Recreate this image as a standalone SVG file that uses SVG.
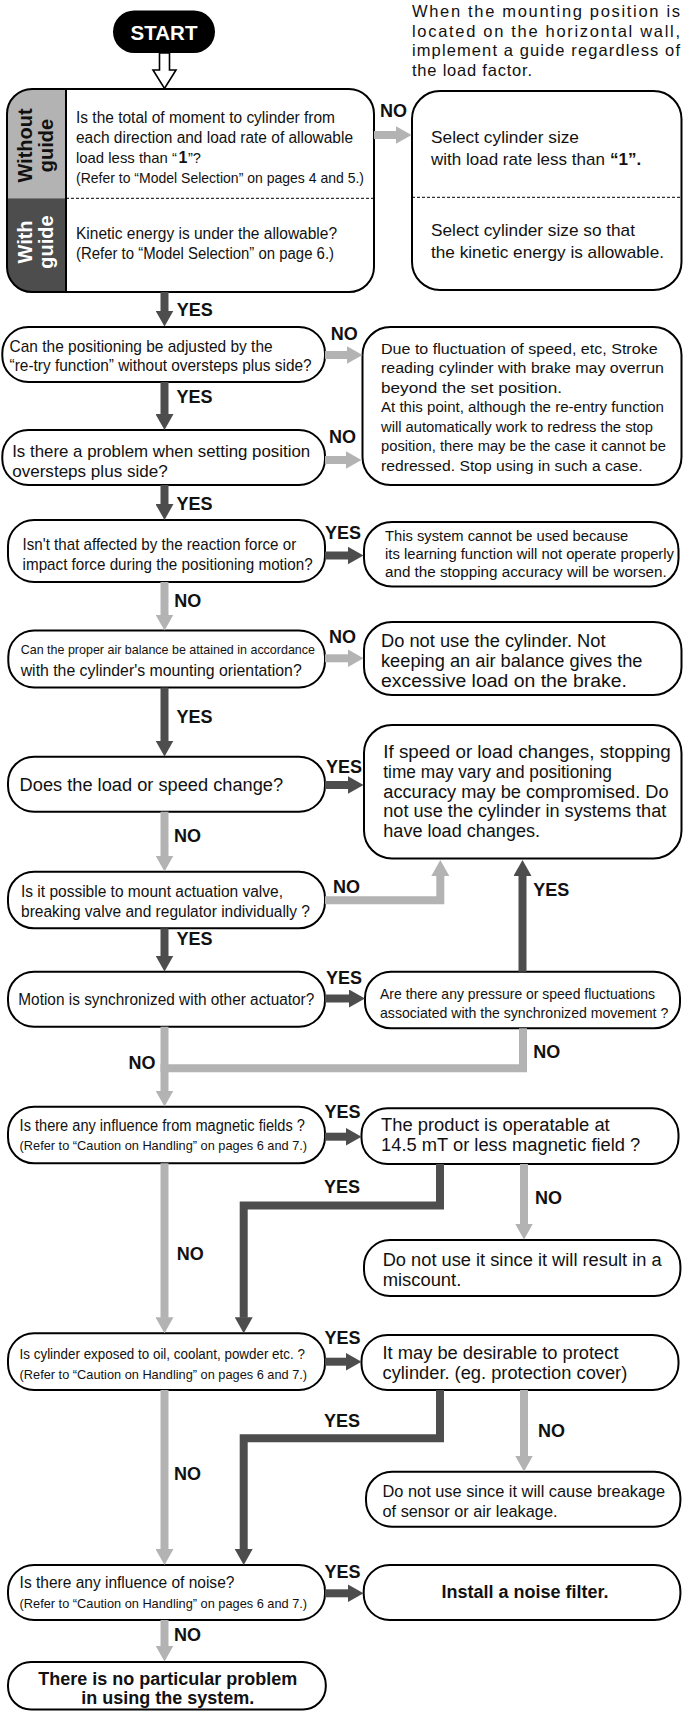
<svg xmlns="http://www.w3.org/2000/svg" width="683" height="1712" viewBox="0 0 683 1712">
<style>
.node{fill:#fff;stroke:#000;stroke-width:2}
text{font-family:"Liberation Sans",Arial,Helvetica,sans-serif;fill:#111}
.f16{font-size:16px}.f165{font-size:16.5px}.f17{font-size:17px}.f18{font-size:18px}
.b{font-weight:bold}
.lbl{font-size:18px;font-weight:bold}
.side{font-size:20px;font-weight:bold}
.dk{fill:none;stroke:#4d4d4d;stroke-width:8;stroke-linejoin:miter;marker-end:url(#ad)}
.lt{fill:none;stroke:#b3b3b3;stroke-width:8;stroke-linejoin:miter;marker-end:url(#al)}
.ltn{fill:none;stroke:#b3b3b3;stroke-width:8;stroke-linejoin:miter}
.dash{stroke:#000;stroke-width:1;stroke-dasharray:3 2;fill:none}
</style>
<defs>
<marker id="ad" markerUnits="userSpaceOnUse" viewBox="0 -9 16 18" refX="0.5" refY="0" markerWidth="16" markerHeight="18" orient="auto"><path d="M0,-9 L16,0 L0,9 z" fill="#4d4d4d"/></marker>
<marker id="al" markerUnits="userSpaceOnUse" viewBox="0 -9 16 18" refX="0.5" refY="0" markerWidth="16" markerHeight="18" orient="auto"><path d="M0,-9 L16,0 L0,9 z" fill="#b3b3b3"/></marker>
<clipPath id="c1"><rect x="7" y="89" width="367" height="203" rx="25"/></clipPath>
</defs>

<g id="note">
<text class="f165" x="412" y="16.7" textLength="268" lengthAdjust="spacing">When the mounting position is</text>
<text class="f165" x="412" y="36.5" textLength="268" lengthAdjust="spacing">located on the horizontal wall,</text>
<text class="f165" x="412" y="56.3" textLength="268" lengthAdjust="spacing">implement a guide regardless of</text>
<text class="f165" x="412" y="76" textLength="120" lengthAdjust="spacing">the load factor.</text>
</g>

<g id="start">
<rect x="113" y="10.5" width="102" height="42.5" rx="21.25" fill="#000"/>
<text x="164" y="40" text-anchor="middle" font-size="20.5" font-weight="bold" style="fill:#fff">START</text>
<polygon points="159.5,53 169.5,53 169.5,70 176,70 164.5,88.5 153,70 159.5,70" fill="#fff" stroke="#000" stroke-width="1.6"/>
</g>

<g id="check-load">
<g clip-path="url(#c1)">
<rect x="7" y="89" width="59" height="109.3" fill="#b3b3b3"/>
<rect x="7" y="198.3" width="59" height="94" fill="#4d4d4d"/>
</g>
<line x1="66" y1="89" x2="66" y2="292" stroke="#000" stroke-width="2"/>
<line class="dash" x1="66" y1="198.3" x2="374" y2="198.3"/>
<rect x="7" y="89" width="367" height="203" rx="25" fill="none" stroke="#000" stroke-width="2"/>
<text class="side" transform="translate(32,145.5) rotate(-90)" text-anchor="middle">Without</text>
<text class="side" transform="translate(53,145.5) rotate(-90)" text-anchor="middle">guide</text>
<text class="side" transform="translate(32,242) rotate(-90)" text-anchor="middle" style="fill:#fff">With</text>
<text class="side" transform="translate(53,242) rotate(-90)" text-anchor="middle" style="fill:#fff">guide</text>
<text class="f16" x="76" y="123.4" textLength="259" lengthAdjust="spacingAndGlyphs">Is the total of moment to cylinder from</text>
<text class="f16" x="76" y="143.4" textLength="277" lengthAdjust="spacingAndGlyphs">each direction and load rate of allowable</text>
<text x="76" y="163.4" font-size="14.8" textLength="101" lengthAdjust="spacingAndGlyphs">load less than “</text>
<text class="f16 b" x="178.5" y="163.4">1</text>
<text x="188" y="163.4" font-size="14.5" textLength="13" lengthAdjust="spacingAndGlyphs">”?</text>
<text x="76" y="183" font-size="14.3" textLength="288" lengthAdjust="spacingAndGlyphs">(Refer to “Model Selection” on pages 4 and 5.)</text>
<text class="f16" x="76" y="239.4" textLength="261" lengthAdjust="spacingAndGlyphs">Kinetic energy is under the allowable?</text>
<text class="f16" x="76" y="259.4" textLength="258" lengthAdjust="spacingAndGlyphs">(Refer to “Model Selection” on page 6.)</text>
</g>

<g id="select-size">
<rect class="node" x="412" y="91" width="269.5" height="199" rx="28"/>
<line class="dash" x1="412" y1="197.3" x2="681.5" y2="197.3"/>
<text class="f17" x="431" y="143" textLength="148" lengthAdjust="spacingAndGlyphs">Select cylinder size</text>
<text class="f17" x="431" y="165">with load rate less than</text>
<text class="f17 b" x="610" y="165">“1”.</text>
<text class="f17" x="431" y="236" textLength="204" lengthAdjust="spacingAndGlyphs">Select cylinder size so that</text>
<text class="f17" x="431" y="258.3" textLength="233" lengthAdjust="spacingAndGlyphs">the kinetic energy is allowable.</text>
</g>

<g id="retry">
<rect class="node" x="2.3" y="327" width="322.7" height="55" rx="26"/>
<text x="9.6" y="351.7" font-size="15.7" textLength="263" lengthAdjust="spacingAndGlyphs">Can the positioning be adjusted by the</text>
<text x="9.6" y="371" font-size="15.7" textLength="302" lengthAdjust="spacingAndGlyphs">“re-try function” without oversteps plus side?</text>
</g>

<g id="overstep">
<rect class="node" x="2.3" y="430" width="322.7" height="55" rx="26"/>
<text class="f17" x="12.2" y="456.7" textLength="298" lengthAdjust="spacingAndGlyphs">Is there a problem when setting position</text>
<text class="f17" x="12.2" y="476.7" textLength="155.5" lengthAdjust="spacingAndGlyphs">oversteps plus side?</text>
</g>

<g id="overrun-note" font-size="15.3">
<rect class="node" x="362.5" y="327" width="319" height="158" rx="28"/>
<text x="381" y="353.5" textLength="276.6" lengthAdjust="spacingAndGlyphs">Due to fluctuation of speed, etc, Stroke</text>
<text x="381" y="373" textLength="283" lengthAdjust="spacingAndGlyphs">reading cylinder with brake may overrun</text>
<text x="381" y="392.5" textLength="181" lengthAdjust="spacingAndGlyphs">beyond the set position.</text>
<text x="381" y="412" textLength="283" lengthAdjust="spacingAndGlyphs">At this point, although the re-entry function</text>
<text x="381" y="431.5" textLength="272" lengthAdjust="spacingAndGlyphs">will automatically work to redress the stop</text>
<text x="381" y="451" textLength="285" lengthAdjust="spacingAndGlyphs">position, there may be the case it cannot be</text>
<text x="381" y="470.5" textLength="261.5" lengthAdjust="spacingAndGlyphs">redressed. Stop using in such a case.</text>
</g>

<g id="reaction" font-size="15.7">
<rect class="node" x="8" y="520" width="317" height="62" rx="26"/>
<text x="22.6" y="550" textLength="273.6" lengthAdjust="spacingAndGlyphs">Isn't that affected by the reaction force or</text>
<text x="22.6" y="569.5" textLength="290" lengthAdjust="spacingAndGlyphs">impact force during the positioning motion?</text>
</g>

<g id="learning-note" font-size="14.9">
<rect class="node" x="364" y="522" width="314.5" height="64.5" rx="28"/>
<text x="385" y="540.5" textLength="243.3" lengthAdjust="spacingAndGlyphs">This system cannot be used because</text>
<text x="385" y="558.5" textLength="289" lengthAdjust="spacingAndGlyphs">its learning function will not operate properly</text>
<text x="385" y="576.5" textLength="281.7" lengthAdjust="spacingAndGlyphs">and the stopping accuracy will be worsen.</text>
</g>

<g id="air-balance">
<rect class="node" x="8.3" y="630.5" width="316.7" height="57" rx="26"/>
<text x="20.7" y="653.5" font-size="12.8" textLength="294.3" lengthAdjust="spacingAndGlyphs">Can the proper air balance be attained in accordance</text>
<text class="f17" x="20.7" y="675.5" textLength="281" lengthAdjust="spacingAndGlyphs">with the cylinder's mounting orientation?</text>
</g>

<g id="air-note">
<rect class="node" x="364" y="622" width="317.5" height="73" rx="28"/>
<text class="f18" x="381" y="647" textLength="224.5" lengthAdjust="spacingAndGlyphs">Do not use the cylinder. Not</text>
<text class="f18" x="381" y="667" textLength="261.5" lengthAdjust="spacingAndGlyphs">keeping an air balance gives the</text>
<text class="f18" x="381" y="687" textLength="246" lengthAdjust="spacingAndGlyphs">excessive load on the brake.</text>
</g>

<g id="load-change">
<rect class="node" x="8" y="756.7" width="317" height="55" rx="26"/>
<text class="f18" x="19.6" y="790.7" textLength="263.5" lengthAdjust="spacingAndGlyphs">Does the load or speed change?</text>
</g>

<g id="load-note">
<rect class="node" x="364" y="725" width="317.5" height="133.5" rx="28"/>
<text class="f18" x="383.3" y="758.3" textLength="287.5" lengthAdjust="spacingAndGlyphs">If speed or load changes, stopping</text>
<text class="f18" x="383.3" y="778" textLength="228.7" lengthAdjust="spacingAndGlyphs">time may vary and positioning</text>
<text class="f18" x="383.3" y="797.5" textLength="285.3" lengthAdjust="spacingAndGlyphs">accuracy may be compromised. Do</text>
<text class="f18" x="383.3" y="817" textLength="283" lengthAdjust="spacingAndGlyphs">not use the cylinder in systems that</text>
<text class="f18" x="383.3" y="836.5" textLength="156.8" lengthAdjust="spacingAndGlyphs">have load changes.</text>
</g>

<g id="valves">
<rect class="node" x="8" y="871.7" width="317" height="56.6" rx="26"/>
<text class="f16" x="21" y="897.3" textLength="262" lengthAdjust="spacingAndGlyphs">Is it possible to mount actuation valve,</text>
<text class="f16" x="21" y="916.5" textLength="289" lengthAdjust="spacingAndGlyphs">breaking valve and regulator individually ?</text>
</g>

<g id="synchronized">
<rect class="node" x="8" y="971.7" width="317" height="55" rx="26"/>
<text x="18.3" y="1005" font-size="15.6" textLength="296" lengthAdjust="spacingAndGlyphs">Motion is synchronized with other actuator?</text>
</g>

<g id="fluctuations" font-size="14.4">
<rect class="node" x="365" y="971.7" width="315" height="56.6" rx="26"/>
<text x="380" y="999" textLength="275" lengthAdjust="spacingAndGlyphs">Are there any pressure or speed fluctuations</text>
<text x="380" y="1018.3" textLength="288.3" lengthAdjust="spacingAndGlyphs">associated with the synchronized movement ?</text>
</g>

<g id="magnetic">
<rect class="node" x="8" y="1106.7" width="317" height="56.6" rx="26"/>
<text x="19.6" y="1130.7" font-size="15.6" textLength="285.3" lengthAdjust="spacingAndGlyphs">Is there any influence from magnetic fields ?</text>
<text x="19.6" y="1150.3" font-size="13.5" textLength="287.5" lengthAdjust="spacingAndGlyphs">(Refer to “Caution on Handling” on pages 6 and 7.)</text>
</g>

<g id="field-limit">
<rect class="node" x="361.5" y="1108.3" width="317" height="55.7" rx="26"/>
<text class="f18" x="381" y="1130.7" textLength="228.7" lengthAdjust="spacingAndGlyphs">The product is operatable at</text>
<text class="f18" x="381" y="1150.7" textLength="259.3" lengthAdjust="spacingAndGlyphs">14.5 mT or less magnetic field ?</text>
</g>

<g id="miscount">
<rect class="node" x="364" y="1240" width="316.4" height="56" rx="26"/>
<text class="f18" x="382.7" y="1266" textLength="279" lengthAdjust="spacingAndGlyphs">Do not use it since it will result in a</text>
<text class="f18" x="382.7" y="1286" textLength="78.6" lengthAdjust="spacingAndGlyphs">miscount.</text>
</g>

<g id="oil">
<rect class="node" x="8" y="1333.3" width="317" height="56.7" rx="26"/>
<text x="19.6" y="1359" font-size="15.4" textLength="285.3" lengthAdjust="spacingAndGlyphs">Is cylinder exposed to oil, coolant, powder etc. ?</text>
<text x="19.6" y="1379" font-size="13.5" textLength="287.5" lengthAdjust="spacingAndGlyphs">(Refer to “Caution on Handling” on pages 6 and 7.)</text>
</g>

<g id="protect">
<rect class="node" x="361.5" y="1335" width="317" height="55" rx="26"/>
<text class="f18" x="382.5" y="1359.3" textLength="236" lengthAdjust="spacingAndGlyphs">It may be desirable to protect</text>
<text class="f18" x="382.5" y="1379.3" textLength="244.8" lengthAdjust="spacingAndGlyphs">cylinder. (eg. protection cover)</text>
</g>

<g id="breakage" font-size="16.8">
<rect class="node" x="366" y="1471.7" width="314.4" height="55" rx="26"/>
<text x="382.5" y="1496.7" textLength="282.7" lengthAdjust="spacingAndGlyphs">Do not use since it will cause breakage</text>
<text x="382.5" y="1516.7" textLength="175" lengthAdjust="spacingAndGlyphs">of sensor or air leakage.</text>
</g>

<g id="noise">
<rect class="node" x="8" y="1565" width="317" height="55" rx="26"/>
<text class="f16" x="19.6" y="1588.3" textLength="214.8" lengthAdjust="spacingAndGlyphs">Is there any influence of noise?</text>
<text x="19.6" y="1608.3" font-size="13.5" textLength="287.5" lengthAdjust="spacingAndGlyphs">(Refer to “Caution on Handling” on pages 6 and 7.)</text>
</g>

<g id="noise-filter">
<rect class="node" x="363.7" y="1565" width="316.7" height="55" rx="26"/>
<text class="f18 b" x="525" y="1598.3" text-anchor="middle">Install a noise filter.</text>
</g>

<g id="no-problem">
<rect class="node" x="8" y="1662" width="317.8" height="47.5" rx="23"/>
<text class="f18 b" x="167.7" y="1685" text-anchor="middle">There is no particular problem</text>
<text class="f18 b" x="167.7" y="1704" text-anchor="middle">in using the system.</text>
</g>

<g id="connectors">
<path class="lt" d="M374,135 H396"/>
<path class="dk" d="M164.5,292 V311"/>
<path class="lt" d="M325,355 H347"/>
<path class="dk" d="M164.5,382 V414.5"/>
<path class="lt" d="M325,460 H346"/>
<path class="dk" d="M164.5,485 V504.5"/>
<path class="dk" d="M325,555.5 H348"/>
<path class="lt" d="M164.5,582 V615"/>
<path class="lt" d="M325,658.3 H348"/>
<path class="dk" d="M164.5,687.5 V741"/>
<path class="dk" d="M325,785 H348"/>
<path class="lt" d="M164.5,811.7 V856"/>
<path class="lt" d="M325,900.3 H440.3 V875.5"/>
<path class="dk" d="M164.5,928.3 V956"/>
<path class="dk" d="M325,998.5 H349.5"/>
<path class="dk" d="M522.5,971.7 V875.5"/>
<path class="ltn" d="M523,1028.3 V1068.3 H160.5"/>
<path class="lt" d="M164.5,1026.7 V1091"/>
<path class="dk" d="M325,1136.7 H346"/>
<path class="dk" d="M440,1164 V1205.5 H243.7 V1317.8"/>
<path class="lt" d="M524,1164 V1224"/>
<path class="lt" d="M164.5,1163.3 V1317.8"/>
<path class="dk" d="M325,1361.7 H346"/>
<path class="dk" d="M440,1390 V1438.3 H243.7 V1549.5"/>
<path class="lt" d="M524,1390 V1456"/>
<path class="lt" d="M164.5,1390 V1549.5"/>
<path class="dk" d="M325,1593.3 H348"/>
<path class="lt" d="M164.5,1620 V1646"/>
</g>

<g id="labels">
<text class="lbl" x="380" y="116.7">NO</text>
<text class="lbl" x="176.7" y="316">YES</text>
<text class="lbl" x="330.7" y="340">NO</text>
<text class="lbl" x="176.4" y="403.3">YES</text>
<text class="lbl" x="329" y="443">NO</text>
<text class="lbl" x="176.4" y="510">YES</text>
<text class="lbl" x="325" y="539.3">YES</text>
<text class="lbl" x="174.2" y="606.7">NO</text>
<text class="lbl" x="329" y="643">NO</text>
<text class="lbl" x="176.4" y="722.7">YES</text>
<text class="lbl" x="326" y="773">YES</text>
<text class="lbl" x="174" y="842">NO</text>
<text class="lbl" x="333" y="893.3">NO</text>
<text class="lbl" x="533.3" y="896">YES</text>
<text class="lbl" x="176.4" y="945">YES</text>
<text class="lbl" x="326" y="984">YES</text>
<text class="lbl" x="533.3" y="1058.3">NO</text>
<text class="lbl" x="128.5" y="1069">NO</text>
<text class="lbl" x="324.5" y="1118">YES</text>
<text class="lbl" x="324" y="1192.7">YES</text>
<text class="lbl" x="535" y="1204">NO</text>
<text class="lbl" x="176.7" y="1260">NO</text>
<text class="lbl" x="324.5" y="1344">YES</text>
<text class="lbl" x="324" y="1427">YES</text>
<text class="lbl" x="538" y="1437">NO</text>
<text class="lbl" x="174" y="1480">NO</text>
<text class="lbl" x="324.5" y="1578">YES</text>
<text class="lbl" x="174" y="1641">NO</text>
</g>
</svg>
